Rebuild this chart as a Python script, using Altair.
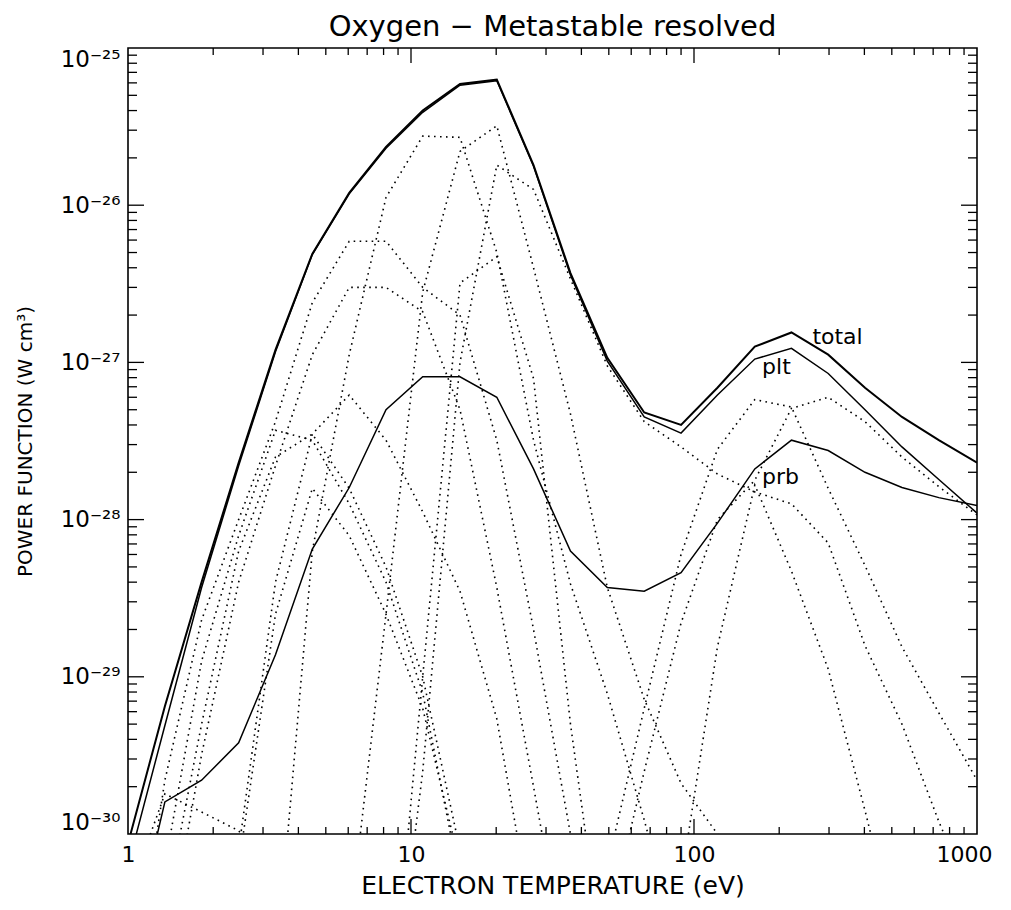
import altair as alt
import pandas as pd

N = None
# electron temperature grid (eV)
T = [1.00, 1.35, 1.82, 2.46, 3.32, 4.48, 6.05, 8.16, 11.0, 14.9, 20.1, 27.1,
     36.6, 49.4, 66.7, 90.0, 121.0, 164.0, 221.0, 298.0, 402.0, 543.0, 733.0, 1000.0]

# solid curves (W cm^3)
total = [8.7e-31, 6.5e-30, 4.0e-29, 2.3e-28, 1.2e-27, 4.9e-27, 1.2e-26, 2.35e-26,
         4.0e-26, 5.9e-26, 6.3e-26, 1.8e-26, 3.7e-27, 1.07e-27, 4.8e-28, 4.0e-28,
         6.9e-28, 1.26e-27, 1.55e-27, 1.12e-27, 6.9e-28, 4.5e-28, 3.2e-28, 2.3e-28]
plt_ = [6.3e-31, 4.9e-30, 3.7e-29, 2.2e-28, 1.17e-27, 4.85e-27, 1.18e-26, 2.3e-26,
        3.9e-26, 5.8e-26, 6.2e-26, 1.77e-26, 3.6e-27, 1.02e-27, 4.5e-28, 3.55e-28,
        6.2e-28, 1.05e-27, 1.23e-27, 8.5e-28, 5.0e-28, 2.9e-28, 1.8e-28, 1.1e-28]
prb = [1.6e-31, 1.6e-30, 2.2e-30, 3.8e-30, 1.38e-29, 6.5e-29, 1.6e-28, 5.0e-28,
       8.1e-28, 8.1e-28, 6.0e-28, 2.1e-28, 6.3e-29, 3.7e-29, 3.5e-29, 4.6e-29,
       9.5e-29, 2.1e-28, 3.2e-28, 2.75e-28, 2.0e-28, 1.6e-28, 1.38e-28, 1.23e-28]

# dotted metastable-resolved contributions
m01 = [4.0e-31, 1.8e-30, 1.38e-30, 1.05e-30, 5.0e-31] + [N] * 19
m02 = [6.3e-32, 2.2e-30, 2.3e-29, 1.0e-28, 4.2e-28, 2.4e-27, 5.9e-27, 5.9e-27, 3.0e-27,
       2.0e-27, 3.2e-28, 2.0e-29, 1.0e-30, 6.3e-32] + [N] * 10
m03 = [N, 1.6e-31, 3.2e-30, 4.0e-29, 2.2e-28, 1.12e-27, 3.0e-27, 3.0e-27, 2.1e-27,
       5.0e-28, 3.7e-29, 2.0e-30, 1.0e-31] + [N] * 11
m04 = [N, 6.3e-31, 1.26e-29, 7.9e-29, 3.7e-28, 3.2e-28, 1.26e-28, 4.0e-29, 7.9e-30,
       5.0e-31] + [N] * 14
m05 = [N, 3.2e-31, 5.0e-30, 6.3e-29, 2.5e-28, 3.5e-28, 1.58e-28, 5.0e-29, 1.0e-29,
       7.9e-31] + [N] * 14
m06 = [N, N, 3.2e-32, 6.3e-31, 2.5e-29, 1.58e-28, 7.9e-29, 2.5e-29, 6.3e-30,
       6.3e-31] + [N] * 14
m07 = [N, N, 1.6e-32, 7.9e-31, 4.0e-29, 3.5e-28, 6.2e-28, 3.2e-28, 1.12e-28, 3.5e-29,
       5.4e-30, 2.5e-31] + [N] * 12
m08 = [N] * 4 + [1.26e-31, 6.3e-29, 1.12e-27, 1.12e-26, 2.75e-26, 2.7e-26, 5.0e-27,
                 3.2e-28, 3.9e-29, 7.8e-30, 1.23e-30, 1.6e-31] + [N] * 8
m09 = [N] * 6 + [2.5e-31, 2.5e-29, 2.8e-27, 2.2e-26, 3.2e-26, 4.0e-27, 4.7e-28, 3.7e-29,
                 7.2e-30, 2.1e-30, 1.0e-30, 4.0e-31] + [N] * 6
m10 = [N] * 7 + [3.2e-32, 1.0e-29, 3.2e-27, 4.7e-27, 7.9e-28, 5.0e-30, 1.0e-31] + [N] * 10
m11 = [N] * 7 + [3.2e-32, 2.5e-30, 1.0e-27, 1.8e-26, 1.26e-26, 3.4e-27, 9.5e-28, 4.2e-28,
                 2.9e-28, 1.95e-28, 1.5e-28, 1.26e-28, 7.1e-29, 1.58e-29, 5.0e-30,
                 1.2e-30, 3.2e-31]
m12 = [N] * 13 + [6.3e-31, 6.3e-30, 6.0e-29, 2.8e-28, 5.8e-28, 5.2e-28, 1.58e-28,
                  5.1e-29, 1.55e-29, 5.9e-30, 2.2e-30]
m13 = [N] * 13 + [2.5e-31, 2.5e-30, 2.2e-29, 1.0e-28, 1.78e-28, 5.1e-28, 6.0e-28,
                  4.2e-28, 2.5e-28, 1.62e-28, 1.07e-28]
m14 = [N] * 15 + [5.0e-31, 1.55e-29, 1.66e-28, 4.7e-29, 1.12e-29, 1.41e-30, 1.6e-31, N, N]

dotted = {"m01": m01, "m02": m02, "m03": m03, "m04": m04, "m05": m05, "m06": m06,
          "m07": m07, "m08": m08, "m09": m09, "m10": m10, "m11": m11, "m12": m12,
          "m13": m13, "m14": m14}
solid = {"total": total, "plt": plt_, "prb": prb}

# curve labels
lab_text = ["total", "plt", "prb"]
lab_T = [262.0, 174.0, 174.0]
lab_v = [1.45e-27, 9.3e-28, 1.86e-28]

# axis ticks
x_major = [1, 10, 100, 1000]
x_minor = [k * 10 ** n for n in range(3) for k in range(2, 10)]
y_major = [1e-30, 1e-29, 1e-28, 1e-27, 1e-26, 1e-25]
y_minor = [k * 10.0 ** n for n in range(-30, -25) for k in range(2, 10)]


def long_form(d):
    rows = []
    for name, vals in d.items():
        for t, v in zip(T, vals):
            if v is not None:
                rows.append({"T": t, "v": v, "curve": name})
    return pd.DataFrame(rows)


W, H = 849, 786
FONT = "DejaVu Sans"
xs = alt.Scale(type="log", domain=[1, 1000], nice=False)
ys = alt.Scale(type="log", domain=[1e-30, 1e-25], nice=False)

e = "round(log(datum.value)/LN10)"
sup = {-25: "⁻²⁵", -26: "⁻²⁶", -27: "⁻²⁷", -28: "⁻²⁸", -29: "⁻²⁹", -30: "⁻³⁰"}
expr = "''"
for k in sorted(sup):
    expr = f"{e} == {k} ? '10{sup[k]}' : ({expr})"

xax = alt.Axis(values=x_major, labelExpr="'' + datum.value", labelFontSize=22,
               labelPadding=10, labelFlush=False,
               labelOffset=alt.condition("datum.value == 1000", alt.value(-13), alt.value(0)),
               title="ELECTRON TEMPERATURE (eV)", titleFontSize=25,
               titleFontWeight="normal", titlePadding=8)
yax = alt.Axis(values=y_major, labelExpr=expr, labelFontSize=23, labelPadding=8,
               labelFlush=True, title="POWER FUNCTION (W cm³)", titleFontSize=20,
               titleFontWeight="normal", titleX=-103, titleY=H / 2, titleAngle=270,
               titleAlign="center", titleBaseline="middle")

dot_df = long_form(dotted)
sol_df = long_form(solid)

dots = alt.Chart(dot_df).mark_line(
    clip=True, color="black", strokeWidth=1.6, strokeDash=[1.6, 4.4]
).encode(
    x=alt.X("T:Q", scale=xs, axis=xax),
    y=alt.Y("v:Q", scale=ys, axis=yax),
    detail="curve:N",
)

sol = alt.Chart(sol_df).mark_line(clip=True, color="black").encode(
    x=alt.X("T:Q", scale=xs),
    y=alt.Y("v:Q", scale=ys),
    detail="curve:N",
    strokeWidth=alt.condition("datum.curve == 'total'", alt.value(2.0), alt.value(1.5)),
)

labels = alt.Chart(pd.DataFrame({"T": lab_T, "v": lab_v, "t": lab_text})).mark_text(
    align="left", baseline="middle", fontSize=22, font=FONT, color="black"
).encode(x=alt.X("T:Q", scale=xs), y=alt.Y("v:Q", scale=ys), text="t:N")


def xticks(vals, length):
    df = pd.DataFrame({"tx": vals})
    base = alt.Chart(df).mark_rule(color="black", strokeWidth=1.3)
    b = base.encode(x=alt.X("tx:Q", scale=xs), y=alt.value(H), y2=alt.value(H - length))
    t = base.encode(x=alt.X("tx:Q", scale=xs), y=alt.value(0), y2=alt.value(length))
    return b + t


def yticks(vals, length):
    df = pd.DataFrame({"ty": vals})
    base = alt.Chart(df).mark_rule(color="black", strokeWidth=1.3)
    l = base.encode(y=alt.Y("ty:Q", scale=ys), x=alt.value(0), x2=alt.value(length))
    r = base.encode(y=alt.Y("ty:Q", scale=ys), x=alt.value(W), x2=alt.value(W - length))
    return l + r


chart = alt.layer(
    dots, sol, labels,
    xticks(x_major[1:-1], 15), xticks(x_minor, 7),
    yticks(y_major[1:-1], 16), yticks(y_minor, 9),
).properties(
    width=W, height=H,
    title=alt.TitleParams("Oxygen − Metastable resolved", fontSize=29, font=FONT,
                          fontWeight="normal", offset=5, color="black"),
    autosize=alt.AutoSizeParams(type="none"),
    padding={"left": 120, "top": 40, "right": 26, "bottom": 74},
).configure_view(
    stroke="black", strokeWidth=1.6
).configure_axis(
    domain=False, ticks=False, grid=False, labelFont=FONT, titleFont=FONT,
    labelColor="black", titleColor="black"
)

chart.save("out.html", embed_options={"renderer": "svg", "actions": False})
